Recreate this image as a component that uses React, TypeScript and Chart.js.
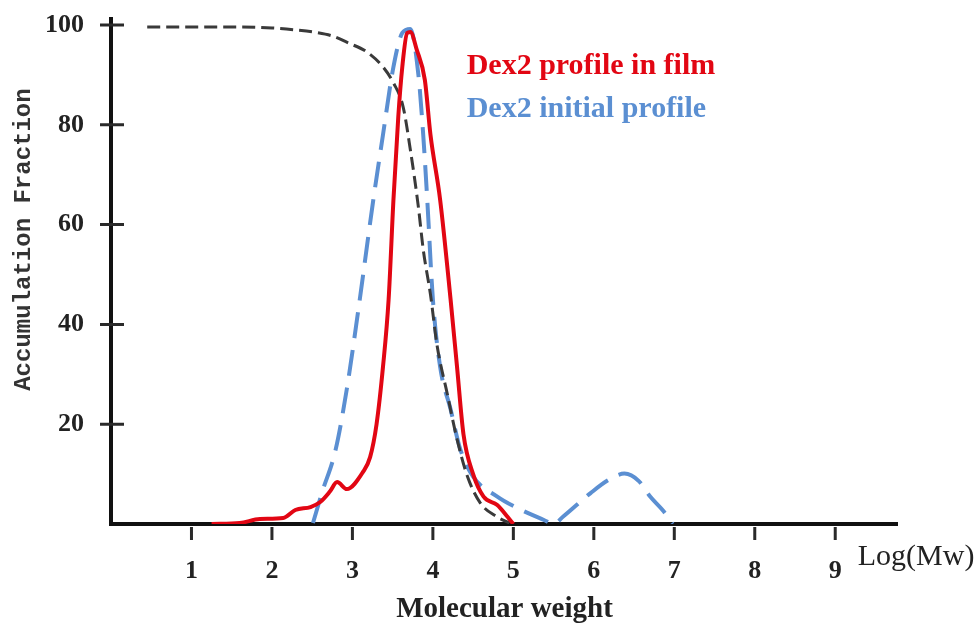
import { useEffect, useRef } from "react";
import { Chart, registerables } from "chart.js";

Chart.register(...registerables);

// ---- data ----
const X_TICKS = [1, 2, 3, 4, 5, 6, 7, 8, 9];
const Y_TICKS = [20, 40, 60, 80, 100];

const FILM_X = [1.25, 1.6, 1.85, 2.14, 2.29, 2.48, 2.6, 2.72, 2.81, 2.93, 3.13, 3.22, 3.3, 3.38, 3.45, 3.51, 3.57, 3.62, 3.68, 3.72, 3.8, 3.9, 3.97, 4.09, 4.22, 4.3, 4.38, 4.5, 4.63, 4.8, 4.93, 5.0];
const FILM_Y = [0, 0.2, 1, 1.2, 2.8, 3.4, 4.4, 6.5, 8.4, 7, 10.4, 13.4, 20, 31.5, 45, 65, 81.6, 91.6, 98.4, 98.6, 95, 89, 78, 65, 45, 31.5, 18, 10, 5.5, 3.8, 1.4, 0];

const INITIAL_X = [2.51, 2.62, 2.79, 2.93, 3.07, 3.26, 3.38, 3.51, 3.62, 3.72, 3.82, 3.88, 3.93, 4.0, 4.09, 4.22, 4.34, 4.5, 4.8, 5.05, 5.38, 5.5, 5.62, 5.96, 6.18, 6.38, 6.56, 6.7, 6.87, 6.98];
const INITIAL_Y = [0.2, 6.2, 14.8, 27, 42.5, 65, 78, 91.6, 98.4, 99.2, 90, 78, 65, 45, 31.5, 23, 15, 9.5, 5.5, 3.2, 0.8, 0, 1.5, 6.2, 8.8, 10.1, 8.6, 5.5, 2.5, 0];

const CUMUL_X = [0.45, 1.6, 2.0, 2.3, 2.55, 2.75, 2.95, 3.18, 3.38, 3.51, 3.63, 3.72, 3.82, 3.88, 3.97, 4.05, 4.18, 4.3, 4.43, 4.59, 4.8, 4.95];
const CUMUL_Y = [99.6, 99.6, 99.4, 99.0, 98.5, 97.8, 96.4, 94.6, 91.6, 88.4, 83.6, 75, 63.5, 55, 46, 36, 26, 17, 9.5, 4.2, 1.4, 0.2];

const LEGEND_FILM = "Dex2 profile in film";
const LEGEND_INITIAL = "Dex2 initial profile";
const X_TITLE = "Molecular weight";
const X_UNIT = "Log(Mw)";
const Y_TITLE = "Accumulation Fraction";

const X_MAX = 9.78;
const Y_MAX = 101.6;

const RED = "#e20613";
const BLUE = "#5b8fd2";
const DARK = "#3a3a3a";

const pts = (xs: number[], ys: number[]) => xs.map((x, i) => ({ x, y: ys[i] }));

const fixPadding = (scale: any) => {
  scale.paddingTop = 0;
  scale.paddingBottom = 0;
  scale.paddingLeft = 0;
  scale.paddingRight = 0;
};

const axesPlugin = {
  id: "customAxes",
  beforeDatasetsDraw(chart: any) {
    const { ctx, chartArea } = chart;
    const xs = chart.scales.x;
    const ys = chart.scales.y;
    ctx.save();
    ctx.strokeStyle = "#111";
    ctx.lineWidth = 4;
    ctx.beginPath();
    ctx.moveTo(chartArea.left, chartArea.top);
    ctx.lineTo(chartArea.left, chartArea.bottom + 2);
    ctx.moveTo(chartArea.left - 2, chartArea.bottom);
    ctx.lineTo(chartArea.right, chartArea.bottom);
    ctx.stroke();
    ctx.lineWidth = 3;
    ctx.strokeStyle = "#2a2a2a";
    ctx.beginPath();
    Y_TICKS.forEach((v) => {
      const py = ys.getPixelForValue(v);
      ctx.moveTo(chartArea.left - 11, py);
      ctx.lineTo(chartArea.left + 13, py);
    });
    X_TICKS.forEach((v) => {
      const px = xs.getPixelForValue(v);
      ctx.moveTo(px, chartArea.bottom + 3);
      ctx.lineTo(px, chartArea.bottom + 16);
    });
    ctx.stroke();
    ctx.restore();
  },
  afterDraw(chart: any) {
    const { ctx } = chart;
    const xs = chart.scales.x;
    const ys = chart.scales.y;
    ctx.save();
    ctx.textBaseline = "alphabetic";
    ctx.textAlign = "left";
    // legend texts
    ctx.fillStyle = RED;
    ctx.font = "bold 30px 'Liberation Serif'";
    ctx.fillText(LEGEND_FILM, xs.getPixelForValue(4.42), ys.getPixelForValue(90.2));
    ctx.fillStyle = BLUE;
    ctx.font = "bold 30px 'Liberation Serif'";
    ctx.fillText(LEGEND_INITIAL, xs.getPixelForValue(4.42), ys.getPixelForValue(81.5));
    // x unit label
    ctx.fillStyle = "#222";
    ctx.font = "30px 'Liberation Serif'";
    ctx.fillText(X_UNIT, xs.getPixelForValue(9.28), ys.getPixelForValue(-8.2));
    // y title
    ctx.translate(24, ys.getPixelForValue(57));
    ctx.rotate(-Math.PI / 2);
    ctx.textAlign = "center";
    ctx.textBaseline = "middle";
    ctx.font = "bold 24px 'Liberation Mono'";
    ctx.fillStyle = "#333";
    ctx.fillText(Y_TITLE, 0, 0);
    ctx.restore();
  },
};

export default function App() {
  const ref = useRef<HTMLCanvasElement>(null);

  useEffect(() => {
    if (!ref.current) return;
    const chart = new Chart(ref.current, {
      type: "line",
      data: {
        datasets: [
          {
            label: LEGEND_FILM,
            data: pts(FILM_X, FILM_Y),
            borderColor: RED,
            borderWidth: 4,
            pointRadius: 0,
            cubicInterpolationMode: "monotone",
            fill: false,
          },
          {
            label: "Cumulative",
            data: pts(CUMUL_X, CUMUL_Y),
            borderColor: DARK,
            borderWidth: 3,
            borderDash: [13, 6],
            pointRadius: 0,
            cubicInterpolationMode: "monotone",
            fill: false,
          },
          {
            label: LEGEND_INITIAL,
            data: pts(INITIAL_X, INITIAL_Y),
            borderColor: BLUE,
            borderWidth: 4,
            borderDash: [26, 12],
            pointRadius: 0,
            cubicInterpolationMode: "monotone",
            fill: false,
          },
        ],
      },
      options: {
        animation: false,
        responsive: false,
        devicePixelRatio: 1,
        layout: { padding: { top: 17, right: 82, left: 0, bottom: 0 } },
        plugins: {
          legend: { display: false },
          tooltip: { enabled: false },
        },
        scales: {
          x: {
            type: "linear",
            min: 0,
            max: X_MAX,
            grid: { display: false, drawTicks: false },
            border: { display: false },
            afterBuildTicks: (s: any) => {
              s.ticks = X_TICKS.map((v) => ({ value: v }));
            },
            afterFit: (s: any) => {
              s.height = 103;
              fixPadding(s);
            },
            ticks: {
              padding: 32,
              color: "#222",
              font: { family: "'Liberation Serif'", size: 26, weight: "bold" },
              callback: (v: any) => String(v),
            },
            title: {
              display: true,
              text: X_TITLE,
              color: "#222",
              font: { family: "'Liberation Serif'", size: 29, weight: "bold", lineHeight: 1 },
              padding: { top: 0, bottom: 3 },
            },
          },
          y: {
            type: "linear",
            min: 0,
            max: Y_MAX,
            grid: { display: false, drawTicks: false },
            border: { display: false },
            afterBuildTicks: (s: any) => {
              s.ticks = Y_TICKS.map((v) => ({ value: v }));
            },
            afterFit: (s: any) => {
              s.width = 111;
              fixPadding(s);
            },
            ticks: {
              padding: 27,
              color: "#222",
              font: { family: "'Liberation Serif'", size: 26, weight: "bold" },
              callback: (v: any) => String(v),
            },
          },
        },
      },
      plugins: [axesPlugin],
    });
    return () => chart.destroy();
  }, []);

  return (
    <div style={{ position: "absolute", left: 0, top: 0, width: 980, height: 627, background: "#fff" }}>
      <canvas ref={ref} width={980} height={627} style={{ display: "block" }} />
    </div>
  );
}
